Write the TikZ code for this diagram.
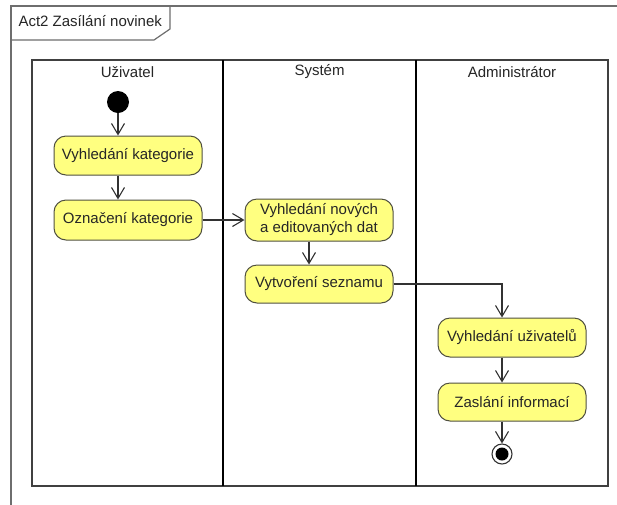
\documentclass[tikz,border=0pt]{standalone}
\usepackage{fontspec}
\setmainfont{Liberation Sans}
\usetikzlibrary{arrows.meta}

\definecolor{actfill}{RGB}{255,255,128}
\definecolor{actedge}{RGB}{80,80,64}
\definecolor{framegray}{RGB}{110,110,110}
\definecolor{flowgray}{RGB}{50,50,50}

\tikzset{
  action/.style={draw=actedge, fill=actfill, line width=1pt, rounded corners=12pt,
    minimum width=148pt, inner sep=2pt, align=center, text=black!85,
    font=\fontsize{15}{18}\selectfont},
  flow/.style={draw=flowgray, line width=1.1pt,
    -{Straight Barb[length=11pt,width=13pt,line width=1.1pt]}},
  lanetitle/.style={text=black!85, font=\fontsize{15}{18}\selectfont},
  lanerule/.style={black, line width=2pt},
}

\begin{document}
\begin{tikzpicture}[x=1pt, y=-1pt]
  \useasboundingbox (0,0) rectangle (617,504);
  \fill[white] (0,0) rectangle (617,504);
  \clip (0,0) rectangle (617,504);

  % diagram frame with its name tab
  \draw[framegray, line width=1.4pt] (11,530) -- (11,6) -- (650,6);
  \draw[framegray, line width=1.2pt] (11,40) -- (154,40) -- (170,29) -- (170,6);
  \node[anchor=west, text=black!85, font=\fontsize{15}{18}\selectfont]
    (title) at (15,21) {Act2 Zasílání novinek};

  % swimlanes
  \draw[black!75, line width=1.2pt] (32,60) rectangle (608,486);
  \draw[lanerule] (223,60) -- (223,486);
  \draw[lanerule] (416,60) -- (416,486);
  \node[lanetitle] (laneU) at (127.5,72) {Uživatel};
  \node[lanetitle] (laneS) at (319.5,72) {Systém};
  \node[lanetitle] (laneA) at (512,72) {Administrátor};

  % initial and final nodes
  \node[circle, fill=black, minimum size=22pt, inner sep=0pt] (init) at (118,102) {};
  \node[circle, draw=black!80, line width=1.1pt, fill=white, minimum size=20pt, inner sep=0pt] (fin) at (502,454) {};
  \fill[black] (fin.center) circle (6.5pt);

  % actions
  \node[action, minimum height=39pt] (b1) at (128,155.5) {Vyhledání kategorie};
  \node[action, minimum height=40pt] (b2) at (128,220) {Označení kategorie};
  \node[action, minimum height=42pt, minimum width=148pt] (b3) at (319,220) {Vyhledání nových\\a editovaných dat};
  \node[action, minimum height=38pt] (b4) at (319,284) {Vytvoření seznamu};
  \node[action, minimum height=39pt] (b5) at (512,337.5) {Vyhledání uživatelů};
  \node[action, minimum height=38pt] (b6) at (512,402) {Zaslání informací};

  % control flows
  \draw[flow] (init) -- (init |- b1.north);
  \draw[flow] (b1.south -| init) -- (b2.north -| init);
  \draw[flow] (b2.east) -- (b3.west);
  \draw[flow] ([xshift=-10pt]b3.south) -- ([xshift=-10pt]b4.north);
  \draw[flow] (b4.east) -| ([xshift=-10pt]b5.north);
  \draw[flow] ([xshift=-10pt]b5.south) -- ([xshift=-10pt]b6.north);
  \draw[flow] ([xshift=-10pt]b6.south) -- (fin.north);
\end{tikzpicture}
\end{document}
